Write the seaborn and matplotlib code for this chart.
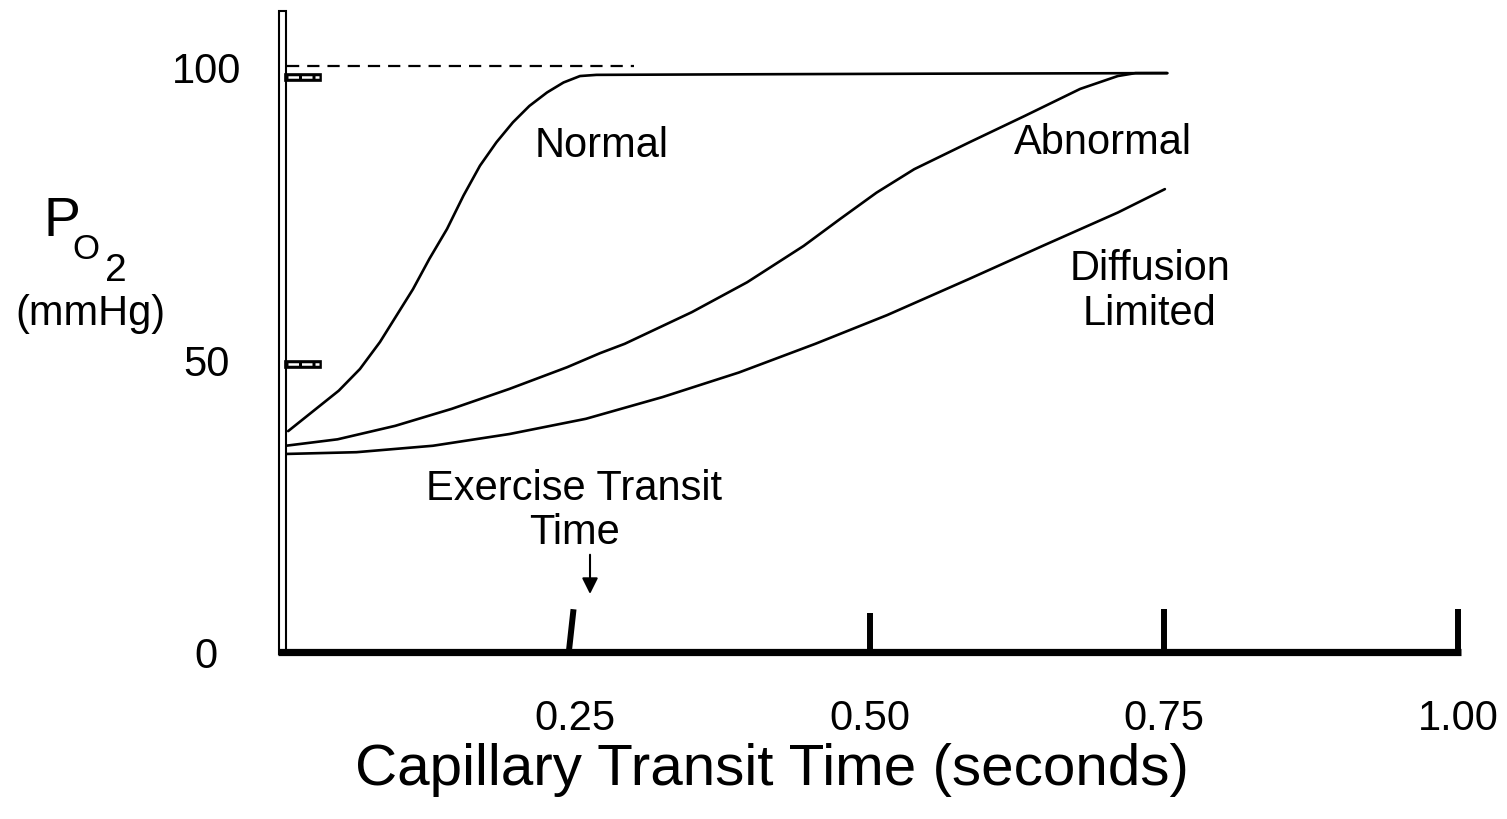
import numpy as np
import pandas as pd
import matplotlib
matplotlib.use("Agg")
import matplotlib.pyplot as plt
from matplotlib.patches import Rectangle
import seaborn as sns

# ---------------- data ----------------
normal_t = [0.006, 0.049, 0.067, 0.084, 0.098, 0.112, 0.126, 0.141, 0.155, 0.169,
            0.183, 0.197, 0.211, 0.226, 0.240, 0.254, 0.268, 0.40, 0.55, 0.753]
normal_p = [37.7, 44.6, 48.3, 52.9, 57.4, 61.9, 67.1, 72.2, 77.9, 83.0,
            87.0, 90.4, 93.2, 95.5, 97.2, 98.3, 98.5, 98.6, 98.7, 98.8]

abnormal_t = [0.004, 0.048, 0.097, 0.145, 0.194, 0.243, 0.271, 0.292, 0.349,
              0.396, 0.444, 0.475, 0.506, 0.538, 0.585, 0.632, 0.679, 0.711, 0.726, 0.753]
abnormal_p = [35.2, 36.3, 38.6, 41.5, 44.9, 48.6, 51.0, 52.6, 58.0,
              63.1, 69.3, 73.9, 78.4, 82.4, 87.0, 91.5, 96.1, 98.3, 98.8, 98.8]

diffusion_t = [0.004, 0.064, 0.129, 0.194, 0.259, 0.324, 0.389, 0.454, 0.515,
               0.585, 0.647, 0.711, 0.751]
diffusion_p = [33.8, 34.1, 35.2, 37.2, 39.8, 43.5, 47.7, 52.6, 57.5,
               63.7, 69.3, 75.0, 79.0]

alveolar_p = 100          # dashed reference line
alveolar_t_end = 0.30
marker_levels = [98.1, 49.1]   # small hatched bars on the y axis

xticks = [0.25, 0.50, 0.75, 1.00]
xtick_labels = ["0.25", "0.50", "0.75", "1.00"]
yticks = [0, 50, 100]
ytick_labels = ["0", "50", "100"]
tick_tops = [7.3, 6.65, 7.3, 7.3]

exercise_time = 0.2625

# ---------------- style ----------------
sns.set_style("white")
plt.rcParams["font.family"] = ["Liberation Sans", "DejaVu Sans"]
plt.rcParams["text.color"] = "black"
plt.rcParams["axes.labelcolor"] = "black"
plt.rcParams["xtick.color"] = "black"
plt.rcParams["ytick.color"] = "black"

W, H = 1507, 820
fig = plt.figure(figsize=(W / 100, H / 100), dpi=100)
x0px, y0px, ytop_px, x1px = 281.1, 653, 12, 1457.9
ax = fig.add_axes([x0px / W, (H - y0px) / H, (x1px - x0px) / W, (y0px - ytop_px) / H])
ax.set_xlim(0, 1.0)
ax.set_ylim(0, 109.4)
for s in ax.spines.values():
    s.set_visible(False)

lw = 1.9
for tt, pp in [(normal_t, normal_p), (abnormal_t, abnormal_p), (diffusion_t, diffusion_p)]:
    df = pd.DataFrame({"t": tt, "p": pp})
    sns.lineplot(data=df, x="t", y="p", ax=ax, color="black", linewidth=lw,
                 estimator=None, sort=False, clip_on=False)
ax.set_xlabel("")
ax.set_ylabel("")

# dashed line at 100
ax.plot([0.005, alveolar_t_end], [alveolar_p, alveolar_p], color="black", lw=1.6,
        dashes=(5.5, 3.6), clip_on=False)

# y axis: hollow double line
ax.add_patch(Rectangle((-0.0018, -0.3), 0.006, 109.7, facecolor="white",
                       edgecolor="black", lw=1.5, clip_on=False, zorder=3))

# hatched small bars
for lv in marker_levels:
    ax.add_patch(Rectangle((0.0033, lv - 0.6), 0.031, 1.2, facecolor="black",
                           edgecolor="black", lw=1.2, clip_on=False, zorder=4))
    ax.plot([0.0058, 0.0325], [lv, lv], color="white", lw=1.8, dashes=(4.2, 1.2),
            solid_capstyle="butt", dash_capstyle="butt", clip_on=False, zorder=5)

# x axis thick line
ax.plot([-0.003, 1.003], [0, 0], color="black", lw=5.2, solid_capstyle="butt",
        clip_on=False, zorder=4)

# tick marks (the 0.25 one slightly slanted)
for xv, top in zip(xticks, tick_tops):
    xb = xv - 0.0055 if xv == 0.25 else xv
    xt = xv - 0.0015 if xv == 0.25 else xv
    ax.plot([xb, xt], [0, top], color="black", lw=4.3, solid_capstyle="butt",
            clip_on=False, zorder=4)

# tick labels
ax.set_xticks(xticks)
ax.set_xticklabels(xtick_labels)
ax.set_yticks(yticks)
ax.set_yticklabels(ytick_labels)
ax.tick_params(axis="both", length=0, labelsize=30, labelcolor="black")
ax.tick_params(axis="x", pad=33)
ax.tick_params(axis="y", pad=54)
for lab in ax.get_yticklabels():
    lab.set_horizontalalignment("center")

def fx(px):
    return px / W
def fy(py):
    return 1 - py / H

# axis title
fig.text(fx(772), fy(770), "Capillary Transit Time (seconds)", fontsize=42,
         ha="center", va="center")

# y label: P O 2 (mmHg)
fig.text(fx(43), fy(236), "P", fontsize=40, va="baseline", ha="left")
fig.text(fx(72), fy(259), "O", fontsize=25, va="baseline", ha="left")
fig.text(fx(105), fy(281), "2", fontsize=28, va="baseline", ha="left")
fig.text(fx(90), fy(314), "(mmHg)", fontsize=30, va="center", ha="center")

# curve annotations
ax.text(0.272, 86.5, "Normal", fontsize=30, ha="center", va="center")
ax.text(0.698, 87.0, "Abnormal", fontsize=30, ha="center", va="center")
ax.text(0.738, 61.7, "Diffusion\nLimited", fontsize=30, ha="center", va="center",
        linespacing=1.15)
ax.text(0.249, 24.2, "Exercise Transit\nTime", fontsize=30, ha="center", va="center",
        linespacing=1.12)
ax.annotate("", xy=(exercise_time, 9.9), xytext=(exercise_time, 16.6),
            arrowprops=dict(arrowstyle="-|>", color="black", lw=1.5,
                            mutation_scale=24, shrinkA=0, shrinkB=0),
            annotation_clip=False)

fig.savefig("out.png", dpi=100, facecolor="white")
